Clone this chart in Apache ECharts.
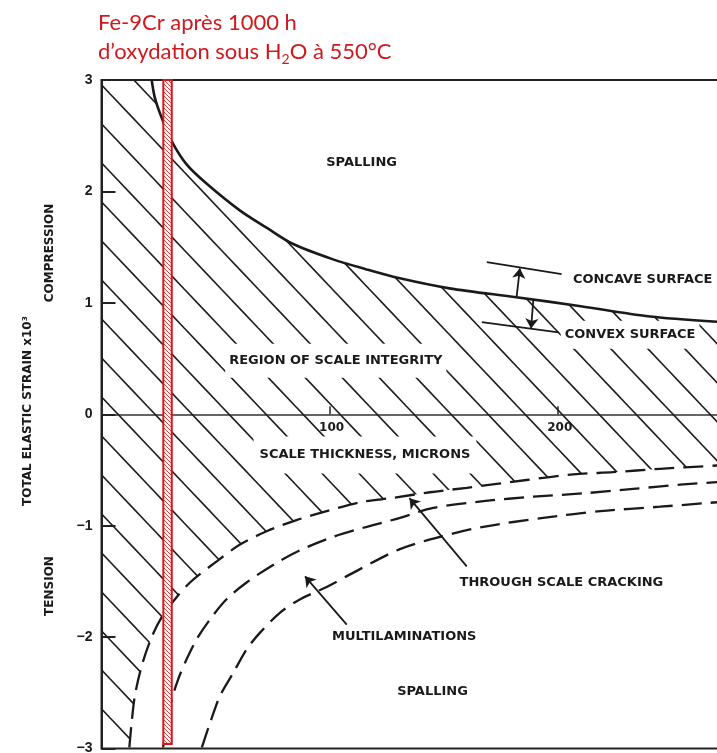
<!DOCTYPE html>
<html>
<head>
<meta charset="utf-8">
<script src="https://cdn.jsdelivr.net/npm/echarts@6.0.0/dist/echarts.min.js"></script>
<style>html,body{margin:0;padding:0;background:#fff}#c{width:717px;height:753px}</style>
</head>
<body>
<div id="c"></div>
<script>
// ---------------- data ----------------
const X_MIN = 0, X_MAX = 273, X_INTERVAL = 100;
const Y_MIN = -3, Y_MAX = 3, Y_INTERVAL = 1;
const xTickValues = [100, 200];
const xTickLabels = ['100', '200'];

// solid boundary: region of scale integrity / spalling (compression)
const spallingBoundary = [[22.0,3.0],[23.4,2.84],[26.4,2.66],[30.8,2.45],[37.4,2.24],[45.5,2.08],[60.6,1.83],[72.7,1.67],[83.8,1.53],[101.5,1.39],[116.2,1.30],[130.8,1.22],[152.5,1.13],[181.8,1.05],[210.1,0.97],[239.4,0.88],[269.8,0.83]];
// dashed boundary: through scale cracking (tension)
const throughScaleCracking = [[12.2,-2.99],[13.2,-2.77],[14.6,-2.53],[17.6,-2.26],[22.0,-2.0],[26.4,-1.82],[32.2,-1.66],[38.8,-1.51],[50.5,-1.32],[60.7,-1.17],[72.4,-1.05],[85.5,-0.95],[98.7,-0.87],[113.3,-0.79],[127.8,-0.75],[144.0,-0.70],[160.1,-0.66],[186.3,-0.59],[206.7,-0.54],[224.2,-0.52],[244.8,-0.49],[269.8,-0.46]];
// dashed boundary: multilaminations
const multilaminations = [[27.0,-2.99],[28.3,-2.83],[30.8,-2.56],[33.6,-2.38],[36.6,-2.23],[41.7,-2.02],[47.6,-1.84],[54.8,-1.66],[63.6,-1.51],[75.4,-1.35],[87.1,-1.22],[101.6,-1.10],[116.3,-1.01],[130.9,-0.93],[145.4,-0.84],[167.4,-0.78],[189.3,-0.74],[211.2,-0.71],[233.1,-0.67],[255.0,-0.63],[269.8,-0.61]];
// dashed boundary: spalling (tension)
const spallingTension = [[44.0,-2.99],[47.6,-2.77],[51.9,-2.53],[57.8,-2.32],[63.6,-2.11],[69.5,-1.96],[78.3,-1.78],[87.1,-1.66],[98.7,-1.55],[113.3,-1.39],[130.8,-1.21],[148.4,-1.10],[167.4,-1.01],[193.6,-0.93],[218.6,-0.87],[244.8,-0.83],[269.8,-0.79]];

const concaveSurface = [[168.9,1.365],[201.7,1.257]];
const convexSurface = [[166.7,0.827],[200.3,0.734]];
const concaveArrow = [[182.0,1.06],[183.4,1.31]];
const convexArrow = [[189.3,1.03],[188.3,0.77]];
const crackingArrow = [[160.1,-1.365],[135.0,-0.753]];
const multilamArrow = [[107.5,-1.888],[89.2,-1.455]];

// Fe-9Cr sample band (thickness range, strain range)
const sampleThickness = [27.1, 30.8];
const sampleStrain = [-2.96, 3.0];

const labelTexts = ['SPALLING','REGION OF SCALE INTEGRITY','SCALE THICKNESS, MICRONS','CONCAVE SURFACE','CONVEX SURFACE','THROUGH SCALE CRACKING','MULTILAMINATIONS','SPALLING'];
const labelX = [114.0,102.7,115.5,237.2,231.7,201.6,132.7,145.1];
const labelY = [2.255,0.43,-0.42,1.206,0.692,-1.514,-1.993,-2.489];

// ---------------- styling helpers ----------------
const labelPads = [[2,2,2,2],[16,4,5,4],[18,6,6,6],[2,2,2,2],[10,4,5,4],[2,2,2,2],[2,2,2,2],[2,2,2,2]];

function makeHatch(w, h, x0, color, lw, bg) {
  const c = document.createElement('canvas');
  c.width = w; c.height = h;
  const g = c.getContext('2d');
  if (bg) { g.fillStyle = bg; g.fillRect(0, 0, w, h); }
  g.strokeStyle = color; g.lineWidth = lw; g.lineCap = 'butt';
  for (let k = -2; k <= 2; k++) {
    const a = x0 + k * w;
    g.beginPath();
    g.moveTo(a - w, -h);
    g.lineTo(a + 2 * w, 2 * h);
    g.stroke();
  }
  return c;
}
const blackHatch = makeHatch(37, 39, 21, '#1e1e1e', 1.7, null);
const redHatch = makeHatch(4, 4, 0, '#d9403f', 1, '#ffffff');

const INK = '#1a1a1a';
const RED = '#d0181f';
const LABEL_FONT = 'bold 13px "DejaVu Sans", sans-serif';
const SIDE_FONT = 'bold 12px "DejaVu Sans", sans-serif';
const TICK_FONT = 'bold 12px "DejaVu Sans", sans-serif';

const chart = echarts.init(document.getElementById('c'), null, {renderer: 'canvas'});

const option = {
  animation: false,
  backgroundColor: '#ffffff',
  title: {
    left: 98, top: 8, padding: 0,
    text: 'Fe-9Cr après 1000 h\nd’oxydation sous H{sub|2}O à 550°C',
    textStyle: {
      color: RED, fontFamily: 'Lato', fontSize: 22, fontWeight: 'normal', lineHeight: 29,
      rich: { sub: { color: RED, fontFamily: 'Lato', fontSize: 14, lineHeight: 14, verticalAlign: 'bottom' } }
    }
  },
  grid: {
    left: 101.5, top: 80, right: -7.3, bottom: 4.5,
    show: true, borderColor: '#222', borderWidth: 2, backgroundColor: 'transparent',
    containLabel: false, outerBoundsMode: 'none'
  },
  xAxis: {
    type: 'value', min: X_MIN, max: X_MAX, interval: X_INTERVAL,
    axisLine: { show: true, onZero: true, lineStyle: { color: '#333', width: 1.6 } },
    axisTick: { show: true, inside: true, length: 8, lineStyle: { color: '#333', width: 1.6 } },
    axisLabel: { show: false },
    splitLine: { show: false }
  },
  yAxis: {
    type: 'value', min: Y_MIN, max: Y_MAX, interval: Y_INTERVAL,
    axisLine: { show: true, onZero: false, lineStyle: { color: '#222', width: 2 } },
    axisTick: { show: true, inside: true, length: 14, lineStyle: { color: '#222', width: 2 } },
    axisLabel: {
      show: true, margin: 9, color: INK, fontFamily: 'Liberation Sans', fontWeight: 'bold', fontSize: 14,
      showMinLabel: true, showMaxLabel: true,
      formatter: v => String(v).replace('-', '\u2212')
    },
    splitLine: { show: false }
  },
  graphic: [
    { type: 'text', x: 28, y: 411, rotation: Math.PI / 2, z: 10,
      style: { text: 'TOTAL ELASTIC STRAIN x10³', font: SIDE_FONT, fill: INK, align: 'center', verticalAlign: 'middle' } },
    { type: 'text', x: 50, y: 253, rotation: Math.PI / 2, z: 10,
      style: { text: 'COMPRESSION', font: SIDE_FONT, fill: INK, align: 'center', verticalAlign: 'middle' } },
    { type: 'text', x: 50, y: 586, rotation: Math.PI / 2, z: 10,
      style: { text: 'TENSION', font: SIDE_FONT, fill: INK, align: 'center', verticalAlign: 'middle' } }
  ],
  series: [
    { // hatched region of scale integrity
      type: 'custom', name: 'hatch', z: 1, clip: true, silent: true,
      data: [[X_MIN, 0]],
      renderItem: (params, api) => {
        const pts = [api.coord([X_MIN, Y_MAX])];
        spallingBoundary.forEach(p => pts.push(api.coord(p)));
        for (let i = throughScaleCracking.length - 1; i >= 0; i--) pts.push(api.coord(throughScaleCracking[i]));
        pts.push(api.coord([X_MIN, Y_MIN]));
        return { type: 'polygon', shape: { points: pts }, style: { fill: { image: blackHatch, repeat: 'repeat' }, stroke: null } };
      }
    },
    { // region labels
      type: 'custom', name: 'labels', z: 2, silent: true,
      data: labelTexts.map((t, i) => [labelX[i], labelY[i]]),
      renderItem: (params, api) => {
        const i = params.dataIndex;
        const p = api.coord([api.value(0), api.value(1)]);
        const pad = labelPads[i];
        return { type: 'text', x: p[0], y: p[1] - (pad[0] - pad[2]) / 2,
          style: { text: labelTexts[i], font: LABEL_FONT, fill: INK, align: 'center', verticalAlign: 'middle', backgroundColor: '#fff', padding: pad } };
      }
    },
    { // x tick labels on the zero line
      type: 'custom', name: 'x tick labels', z: 3, silent: true,
      data: xTickValues.map(v => [v, 0]),
      renderItem: (params, api) => {
        const p = api.coord([api.value(0), api.value(1)]);
        return { type: 'text', x: p[0] + 2, y: p[1] + 8,
          style: { text: xTickLabels[params.dataIndex], font: TICK_FONT, fill: INK, align: 'center', verticalAlign: 'top' } };
      }
    },
    { type: 'line', name: 'spalling boundary', z: 3, data: spallingBoundary, showSymbol: false, smooth: 0.3,
      lineStyle: { color: INK, width: 2.6 } },
    { type: 'line', name: 'through scale cracking', z: 3, data: throughScaleCracking, showSymbol: false, smooth: 0.3,
      lineStyle: { color: INK, width: 2.3, type: [20, 9] } },
    { type: 'line', name: 'multilaminations', z: 3, data: multilaminations, showSymbol: false, smooth: 0.3,
      lineStyle: { color: INK, width: 2.3, type: [20, 9] } },
    { type: 'line', name: 'spalling (tension)', z: 3, data: spallingTension, showSymbol: false, smooth: 0.3,
      lineStyle: { color: INK, width: 2.3, type: [20, 9] } },
    { type: 'line', name: 'concave surface', z: 3, data: concaveSurface, showSymbol: false,
      lineStyle: { color: INK, width: 1.8 } },
    { type: 'line', name: 'convex surface', z: 3, data: convexSurface, showSymbol: false,
      lineStyle: { color: INK, width: 1.8 } },
    { type: 'lines', name: 'arrows', coordinateSystem: 'cartesian2d', z: 4, silent: true,
      symbol: ['none', 'arrow'], symbolSize: [0, 10],
      lineStyle: { color: INK, width: 1.8, opacity: 1 },
      data: [ { coords: concaveArrow }, { coords: convexArrow }, { coords: crackingArrow }, { coords: multilamArrow } ]
    },
    { // Fe-9Cr sample band
      type: 'custom', name: 'Fe-9Cr', z: 6, silent: true,
      data: [[sampleThickness[0], sampleStrain[1]]],
      renderItem: (params, api) => {
        const tl = api.coord([sampleThickness[0], sampleStrain[1]]);
        const br = api.coord([sampleThickness[1], sampleStrain[0]]);
        return { type: 'rect', shape: { x: tl[0], y: tl[1], width: br[0] - tl[0], height: br[1] - tl[1] },
          style: { fill: { image: redHatch, repeat: 'repeat' }, stroke: RED, lineWidth: 2 } };
      }
    }
  ]
};
chart.setOption(option);
</script>
</body>
</html>
